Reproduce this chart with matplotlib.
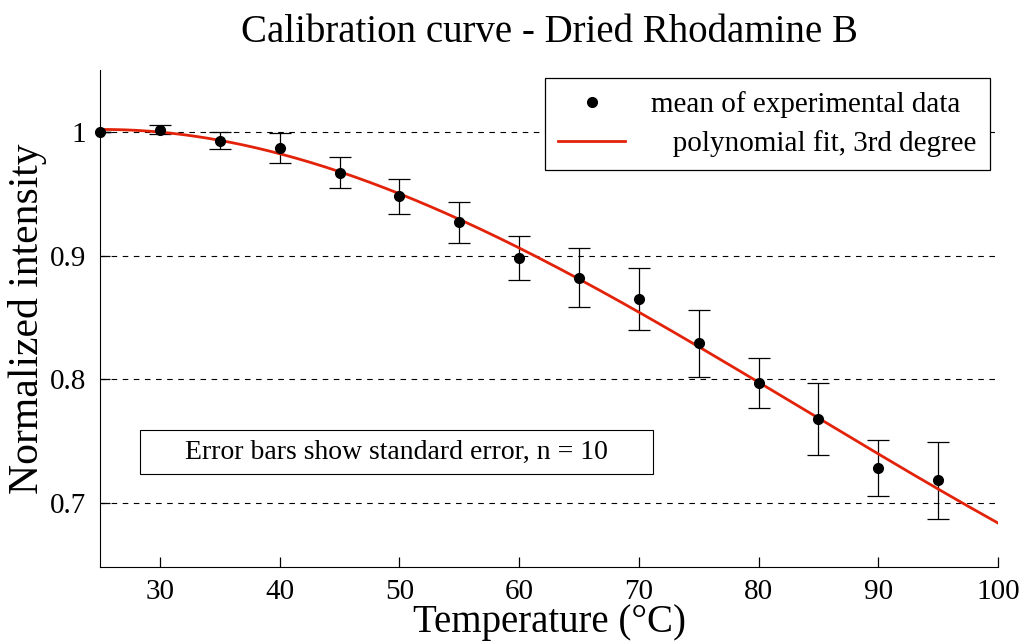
import numpy as np
import matplotlib.pyplot as plt
from matplotlib.patches import Rectangle

# Calibration data: temperature vs normalized intensity (mean of n = 10)
temps = [25, 30, 35, 40, 45, 50, 55, 60, 65, 70, 75, 80, 85, 90, 95]
means = [1.000, 1.002, 0.993, 0.987, 0.967, 0.948, 0.927, 0.898,
         0.882, 0.865, 0.829, 0.797, 0.768, 0.728, 0.718]
errors = [0.000, 0.004, 0.007, 0.0125, 0.0125, 0.014, 0.0165, 0.018,
          0.024, 0.025, 0.027, 0.0205, 0.029, 0.0225, 0.0315]

# 3rd degree polynomial fit of the means
coeffs = np.polyfit(temps, means, 3)
fit_x = np.linspace(25, 100, 300)
fit_y = np.polyval(coeffs, fit_x)

plt.rcParams['font.family'] = ['Liberation Serif', 'DejaVu Serif']

fig = plt.figure(figsize=(10.23, 6.44), dpi=100)
ax = fig.add_axes([0.0978, 0.1196, 0.8778, 0.7714])

for y in [0.7, 0.8, 0.9, 1.0]:
    ax.axhline(y, color='black', linestyle=(0, (5, 5)), linewidth=0.8, zorder=1)

ax.errorbar(temps, means, yerr=errors, fmt='none', ecolor='black',
            elinewidth=0.9, capsize=8, capthick=0.9, zorder=2)
ax.plot(fit_x, fit_y, color='#e2230a', linewidth=2, zorder=3,
        label='   polynomial fit, 3rd degree')
ax.plot(temps, means, 'o', color='black', markersize=7, zorder=4,
        label='mean of experimental data', clip_on=False)

ax.set_xlim(25, 100)
ax.set_ylim(0.648, 1.05)
ax.set_xticks([30, 40, 50, 60, 70, 80, 90, 100])
ax.set_yticks([0.7, 0.8, 0.9, 1.0])
ax.set_yticklabels(['0.7', '0.8', '0.9', '1'])
ax.tick_params(direction='in', length=7, labelsize=21, width=0.9)
ax.tick_params(axis='x', pad=9)
ax.tick_params(axis='y', pad=10)
ax.spines['top'].set_visible(False)
ax.spines['right'].set_visible(False)

ax.set_title('Calibration curve - Dried Rhodamine B', fontsize=28, pad=20)
ax.set_xlabel('Temperature (°C)', fontsize=28, labelpad=-1)
ax.set_ylabel('Normalized intensity', fontsize=30, labelpad=2)

handles, labels = ax.get_legend_handles_labels()
leg = ax.legend(handles[::-1], labels[::-1], loc='upper right',
                bbox_to_anchor=(0.991, 0.984), borderaxespad=0,
                fontsize=21, frameon=True,
                fancybox=False, edgecolor='black', framealpha=1,
                borderpad=0.45, handlelength=2.3, labelspacing=0.4,
                handletextpad=0.9)
leg.get_frame().set_linewidth(0.9)

# note box
ax.add_patch(Rectangle((0.0445, 0.187), 0.571, 0.0885, transform=ax.transAxes,
                       facecolor='white', edgecolor='black', linewidth=0.8,
                       zorder=5))
ax.text(0.33, 0.231, 'Error bars show standard error, n = 10',
        transform=ax.transAxes, fontsize=20, ha='center', va='center',
        zorder=6)

plt.savefig('out.png', dpi=100)
